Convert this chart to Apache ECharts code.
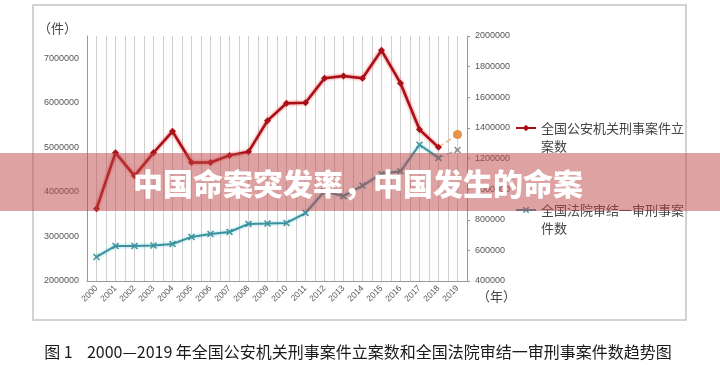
<!DOCTYPE html>
<html>
<head>
<meta charset="utf-8">
<script src="https://cdn.jsdelivr.net/npm/echarts@6/dist/echarts.min.js"></script>
<style>
html,body{margin:0;padding:0;background:#fff;}
#chart{width:720px;height:365px;}
</style>
</head>
<body>
<div id="chart"></div>
<script>
// ---- data ----
var years = ['2000','2001','2002','2003','2004','2005','2006','2007','2008','2009','2010','2011','2012','2013','2014','2015','2016','2017','2018','2019'];
var policeCases = [3620000, 4880000, 4360000, 4880000, 5360000, 4660000, 4660000, 4820000, 4900000, 5600000, 5990000, 6000000, 6550000, 6600000, 6550000, 7180000, 6440000, 5400000, 5000000];
var police2019 = 5290000;
var courtCases = [557000, 629000, 629000, 632000, 642000, 688000, 707000, 720000, 773000, 775000, 779000, 844000, 986000, 954000, 1023000, 1099000, 1116000, 1290000, 1204000];
var court2019 = 1256000;
var leftTicks = {min: 2000000, max: 7500000, interval: 1000000};
var rightTicks = {min: 400000, max: 2000000, interval: 200000};
var legendPolice = '\n全国公安机关刑事案件立\n案数';
var legendCourt = '\n全国法院审结一审刑事案\n件数';
var bannerText = '中国命案突发率，中国发生的命案';
var captionText = '图 1    2000—2019 年全国公安机关刑事案件立案数和全国法院审结一审刑事案件数趋势图';

// ---- build ----
function padTo(arr, n){ var a = arr.slice(); while(a.length < n) a.push(null); return a; }
function tail(arr, last, n){ var a = []; for (var i=0;i<n;i++) a.push(null); a[arr.length-1] = arr[arr.length-1]; a[arr.length] = last; return a; }
var N = years.length;
var crossPath = 'path://M0,1.5L1.5,0L5,3.5L8.5,0L10,1.5L6.5,5L10,8.5L8.5,10L5,6.5L1.5,10L0,8.5L3.5,5Z';

var estPolice = tail(policeCases, police2019, N).map(function(v,i){
  if (v === null) return null;
  return i === N-1 ? {value: v, symbol: 'circle', symbolSize: 9, itemStyle: {color: '#e8924a'}} : {value: v, symbol: 'none'};
});
var estCourt = tail(courtCases, court2019, N).map(function(v,i){
  if (v === null) return null;
  return i === N-1 ? {value: v, symbol: crossPath, symbolSize: 7, itemStyle: {color: '#8a8a8a'}} : {value: v, symbol: 'none'};
});
function plain(v){ return String(v); }

var chart = echarts.init(document.getElementById('chart'));
var font = '"Noto Sans CJK SC", "Liberation Sans", sans-serif';
chart.setOption({
  animation: false,
  backgroundColor: '#fff',
  textStyle: {fontFamily: font},
  grid: {left: 87, right: 253, top: 36, bottom: 84, containLabel: false},
  legend: {
    orient: 'vertical', left: 515, top: 101, padding: 0,
    itemWidth: 20, itemHeight: 8, itemGap: 28,
    data: [legendPolice, legendCourt],
    textStyle: {fontSize: 13, color: '#444', lineHeight: 18, fontFamily: font}
  },
  xAxis: [{
    type: 'category', data: years, boundaryGap: true,
    name: '（年）', nameLocation: 'end', nameGap: 10,
    nameTextStyle: {fontSize: 13, color: '#444', verticalAlign: 'top', padding: [9,0,0,0]},
    axisLine: {show: true, lineStyle: {color: '#999', width: 1}},
    axisTick: {show: false},
    axisLabel: {rotate: 45, fontSize: 8.5, color: '#555', margin: 6, interval: 0, fontFamily: '"Liberation Sans", sans-serif'},
    splitLine: {show: false}
  }, {
    type: 'value', min: 0, max: 40, interval: 1, show: true, position: 'bottom',
    axisLine: {show: false}, axisTick: {show: false}, axisLabel: {show: false},
    splitLine: {show: true, lineStyle: {color: '#cfcfcf', width: 1}}
  }],
  yAxis: [{
    type: 'value', position: 'left', min: leftTicks.min, max: leftTicks.max, interval: leftTicks.interval,
    name: '（件）', nameLocation: 'end', nameGap: 1,
    nameTextStyle: {fontSize: 13, color: '#444', align: 'right', padding: [0,10,0,0]},
    axisLine: {show: true, lineStyle: {color: '#999', width: 1}},
    axisTick: {show: false},
    axisLabel: {fontSize: 9, color: '#555', margin: 8, showMaxLabel: false, formatter: plain, fontFamily: '"Liberation Sans", sans-serif'},
    splitLine: {show: false}
  }, {
    type: 'value', position: 'right', min: rightTicks.min, max: rightTicks.max, interval: rightTicks.interval,
    axisLine: {show: true, lineStyle: {color: '#999', width: 1}},
    axisTick: {show: true, length: 3, lineStyle: {color: '#999'}},
    axisLabel: {fontSize: 9, color: '#555', margin: 8, formatter: plain, fontFamily: '"Liberation Sans", sans-serif'},
    splitLine: {show: false}
  }],
  series: [{
    name: legendPolice, type: 'line', xAxisIndex: 0, yAxisIndex: 0,
    data: padTo(policeCases, N),
    symbol: 'diamond', symbolSize: 7, z: 5,
    itemStyle: {color: '#a90f17'},
    lineStyle: {color: '#a90f17', width: 2.5, shadowColor: 'rgba(235,40,40,0.8)', shadowBlur: 3}
  }, {
    name: legendCourt, type: 'line', xAxisIndex: 0, yAxisIndex: 1,
    data: padTo(courtCases, N),
    symbol: crossPath, symbolSize: 7, z: 4,
    itemStyle: {color: '#3b93a0'},
    lineStyle: {color: '#3b93a0', width: 2, shadowColor: 'rgba(90,190,200,0.7)', shadowBlur: 3}
  }, {
    name: 'police-est', type: 'line', xAxisIndex: 0, yAxisIndex: 0,
    data: estPolice, z: 3,
    itemStyle: {color: '#e8924a'},
    lineStyle: {color: '#f2b48a', width: 1.5, type: 'dashed'}
  }, {
    name: 'court-est', type: 'line', xAxisIndex: 0, yAxisIndex: 1,
    data: estCourt, z: 3,
    itemStyle: {color: '#8a8a8a'},
    lineStyle: {color: '#b0b0b0', width: 1.5, type: 'dashed'}
  }],
  graphic: [{
    type: 'rect', z: -1, silent: true,
    shape: {x: 33, y: 5, width: 653, height: 315},
    style: {fill: 'none', stroke: '#c4c4c4', lineWidth: 1.5}
  }, {
    type: 'rect', z: 100, silent: true,
    shape: {x: 0, y: 153, width: 720, height: 58},
    style: {fill: 'rgba(190,70,70,0.5)'}
  }, {
    type: 'text', z: 101, silent: true, x: 358, y: 184,
    style: {text: bannerText, fill: '#fff', font: '900 30px "Noto Sans CJK SC", sans-serif', align: 'center', verticalAlign: 'middle'}
  }, {
    type: 'text', z: 10, silent: true, x: 358, y: 352,
    style: {text: captionText, fill: '#1a1a1a', font: '16px "Noto Sans CJK SC", sans-serif', align: 'center', verticalAlign: 'middle'}
  }]
});
</script>
</body>
</html>
